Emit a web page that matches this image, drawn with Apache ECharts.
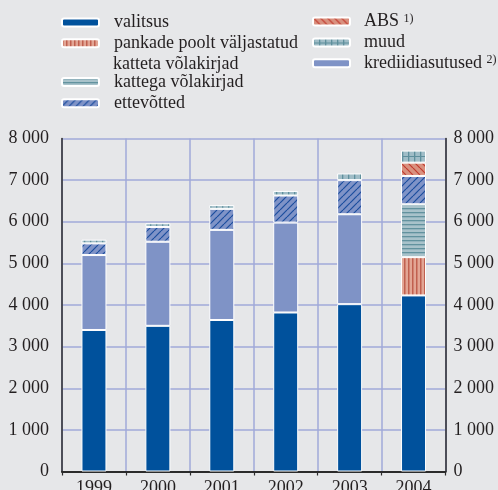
<!DOCTYPE html>
<html>
<head>
<meta charset="utf-8">
<script src="https://cdn.jsdelivr.net/npm/echarts@6/dist/echarts.min.js"></script>
<style>
  html, body { margin: 0; padding: 0; background: #e6e7e9; }
  #chart { width: 498px; height: 490px; }
</style>
</head>
<body>
<div id="chart"></div>
<script>
// Years on the category axis
var years = ['1999', '2000', '2001', '2002', '2003', '2004'];

// Outstanding amounts by issuer group (stacked, bottom to top)
var valitsus = [3400, 3500, 3640, 3820, 4020, 4230];
var pankade = [null, null, null, null, null, 920];
var kattega = [null, null, null, null, null, 1270];
var krediidiasutused = [1800, 2020, 2165, 2160, 2160, null];
var ettevotted = [280, 355, 505, 650, 820, 680];
var abs = [null, null, null, null, null, 320];
var muud = [90, 90, 90, 110, 160, 290];

// Value axis range
var yMin = 0, yMax = 8000, yStep = 1000;

var FONT = '"Liberation Serif", "DejaVu Serif", serif';
var TXT = '#231f20';

// Small tiled canvases used as hatch fills
function pattern(w, h, bg, draw) {
  var c = document.createElement('canvas');
  c.width = w; c.height = h;
  var g = c.getContext('2d');
  g.fillStyle = bg; g.fillRect(0, 0, w, h);
  draw(g, w, h);
  return { image: c, repeat: 'repeat' };
}
function diag(g, w, h, col, forward) {
  g.strokeStyle = col; g.lineWidth = 1.2;
  for (var k = -1; k <= 1; k++) {
    g.beginPath();
    if (forward) { g.moveTo(k * w, h); g.lineTo(k * w + w, 0); }
    else { g.moveTo(k * w, 0); g.lineTo(k * w + w, h); }
    g.stroke();
  }
}
var fillVertRed = pattern(4, 4, '#e2a594', function (g) {
  g.fillStyle = '#c0604f'; g.fillRect(0, 0, 1.5, 4);
});
var fillHorizTeal = pattern(4, 4, '#a8c2ca', function (g) {
  g.fillStyle = '#62929e'; g.fillRect(0, 0, 4, 1.3);
});
var fillHatchBlue = pattern(7, 7, '#7f93c7', function (g, w, h) {
  diag(g, w, h, '#1c4e9e', true);
});
var fillHatchRed = pattern(7, 7, '#d9917f', function (g, w, h) {
  diag(g, w, h, '#c23a2e', false);
});
var fillGridTeal = pattern(6, 8, '#a0bdc7', function (g) {
  g.fillStyle = '#5f8f9c'; g.fillRect(0, 0, 1.3, 8); g.fillRect(0, 4, 6, 1);
});

function bar(name, data, color) {
  return {
    name: name, type: 'bar', stack: 'total', data: data,
    barWidth: 25,
    itemStyle: { color: color, borderColor: '#ffffff', borderWidth: 1 },
    emphasis: { disabled: true }
  };
}

var series = [
  bar('valitsus', valitsus, '#00519c'),
  bar('pankade', pankade, fillVertRed),
  bar('kattega võlakirjad', kattega, fillHorizTeal),
  bar('krediidiasutused', krediidiasutused, '#7f93c6'),
  bar('ettevõtted', ettevotted, fillHatchBlue),
  bar('ABS', abs, fillHatchRed),
  bar('muud', muud, fillGridTeal)
];

// One legend block per entry, laid out in two columns
function legendItem(name, left, top, padLeft, formatter, icon) {
  var o = {
    data: [name], left: left, top: top, orient: 'vertical',
    itemWidth: 37, itemHeight: 8, itemGap: 0, padding: 0,
    selectedMode: false,
    textStyle: {
      fontFamily: FONT, fontSize: 18, color: TXT,
      padding: [0, 0, 0, padLeft],
      rich: {
        s: { fontFamily: FONT, fontSize: 12, color: TXT, verticalAlign: 'top' }
      }
    }
  };
  if (formatter) o.formatter = formatter;
  if (icon) o.icon = icon;
  return o;
}

var legends = [
  legendItem('valitsus', 61, 13.5, 10),
  legendItem('pankade', 61, 34.3, 10, function () { return 'pankade poolt väljastatud'; }),
  legendItem('pankade', 61, 55, 10, function () { return 'katteta võlakirjad'; }, 'none'),
  legendItem('kattega võlakirjad', 61, 73, 10),
  legendItem('ettevõtted', 61, 94.3, 10),
  legendItem('ABS', 312, 12.5, 9, function () { return 'ABS {s|1)}'; }),
  legendItem('muud', 312, 33.5, 9),
  legendItem('krediidiasutused', 312, 54.3, 9, function () {
    return 'krediidiasutused {s|2)}';
  })
];

function fmtThousands(v) {
  var s = String(Math.round(v));
  return s.replace(/\B(?=(\d{3})+(?!\d))/g, ' ');
}

var gridColor = '#a0aad8';
var axisColor = '#2b2b2b';

function yAxisDef(pos, margin) {
  return {
    type: 'value', position: pos, min: yMin, max: yMax, interval: yStep,
    axisLine: { show: true, lineStyle: { color: axisColor, width: 1.5 } },
    axisTick: { show: false },
    axisLabel: { fontFamily: FONT, fontSize: 18, color: TXT, margin: margin,
      formatter: fmtThousands },
    splitLine: { show: pos === 'left', lineStyle: { color: gridColor, width: 1.5 } }
  };
}

var option = {
  backgroundColor: '#e6e7e9',
  animation: false,
  textStyle: { fontFamily: FONT, color: TXT },
  legend: legends,
  grid: { left: 62, right: 52.5, top: 138.5, bottom: 18.5,
    containLabel: false, outerBoundsMode: 'none' },
  xAxis: [
    {
      type: 'category', data: years, position: 'bottom',
      axisLine: { show: true, lineStyle: { color: axisColor, width: 2 } },
      axisTick: { show: false },
      axisLabel: { fontFamily: FONT, fontSize: 18, color: TXT, margin: 8 },
      splitLine: { show: true, interval: 0, lineStyle: { color: gridColor, width: 1.5 } }
    },
    {
      type: 'category', data: years, position: 'bottom', offset: 4,
      axisLine: { show: true, lineStyle: { color: axisColor, width: 1.2 } },
      axisTick: { show: true, inside: false, length: 4, interval: 0,
        lineStyle: { color: axisColor, width: 1.2 } },
      axisLabel: { show: false },
      splitLine: { show: false }
    }
  ],
  yAxis: [yAxisDef('left', 13), yAxisDef('right', 8)],
  series: series
};

var chart = echarts.init(document.getElementById('chart'), null, { renderer: 'canvas' });
chart.setOption(option);
</script>
</body>
</html>
